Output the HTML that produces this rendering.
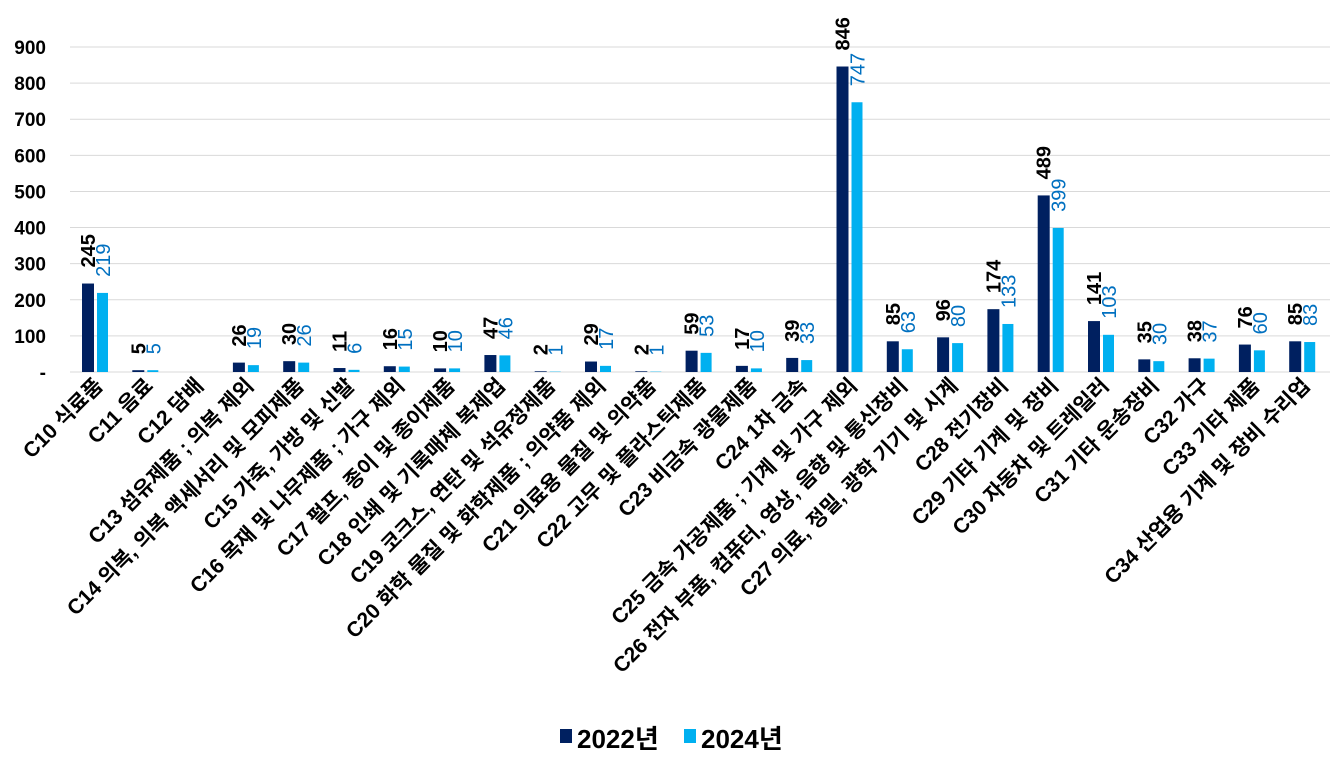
<!DOCTYPE html><html><head><meta charset="utf-8"><style>body{margin:0;background:#fff}svg{display:block;font-family:"Liberation Sans","Noto Sans CJK KR",sans-serif}</style></head><body>
<svg id="s" width="1343" height="761" xmlns="http://www.w3.org/2000/svg"></svg>
<script>
const cats=["C10 식료품","C11 음료","C12 담배","C13 섬유제품 ; 의복 제외","C14 의복, 의복 액세서리 및 모피제품","C15 가죽, 가방 및 신발","C16 목재 및 나무제품 ; 가구 제외","C17 펄프, 종이 및 종이제품","C18 인쇄 및 기록매체 복제업","C19 코크스, 연탄 및 석유정제품","C20 화학 물질 및 화학제품 ; 의약품 제외","C21 의료용 물질 및 의약품","C22 고무 및 플라스틱제품","C23 비금속 광물제품","C24 1차 금속","C25 금속 가공제품 ; 기계 및 가구 제외","C26 전자 부품, 컴퓨터, 영상, 음향 및 통신장비","C27 의료, 정밀, 광학 기기 및 시계","C28 전기장비","C29 기타 기계 및 장비","C30 자동차 및 트레일러","C31 기타 운송장비","C32 가구","C33 기타 제품","C34 산업용 기계 및 장비 수리업"];
const a=[245,5,null,26,30,11,16,10,47,2,29,2,59,17,39,846,85,96,174,489,141,35,38,76,85];
const b=[219,5,null,19,26,6,15,10,46,1,17,1,53,10,33,747,63,80,133,399,103,30,37,60,83];
let h='';const y0=372,k=0.3611;
for(let i=0;i<=9;i++){const y=y0-i*100*k;h+=`<line x1="70" x2="1330" y1="${y}" y2="${y}" stroke="#d9d9d9" stroke-width="1"/>`;h+=`<text x="46" y="${y+7}" text-anchor="end" font-size="19" font-weight="bold">${i?i*100:'-'}</text>`;}
for(let i=0;i<25;i++){const c=95+i*50.3;
if(a[i]!=null){const ha=a[i]*k,hb=b[i]*k;
h+=`<rect x="${c-13}" y="${y0-ha}" width="12" height="${ha}" fill="#002060"/><rect x="${c+2}" y="${y0-hb}" width="11" height="${hb}" fill="#00b0f0"/>`;
h+=`<text transform="translate(${c},${y0-ha-16}) rotate(-90)" font-size="20" font-weight="bold">${a[i]}</text>`;
h+=`<text transform="translate(${c+15},${y0-hb-16}) rotate(-90)" font-size="20" fill="#0070c0">${b[i]}</text>`;}
h+=`<text transform="translate(${c+9},${387}) rotate(-45)" text-anchor="end" font-size="21" font-weight="bold">${cats[i]}</text>`;}
h+=`<rect x="560" y="729" width="12" height="14" fill="#002060"/><text x="577" y="748" font-size="26" font-weight="bold">2022년</text>`;
h+=`<rect x="684" y="729" width="12" height="14" fill="#00b0f0"/><text x="701" y="748" font-size="26" font-weight="bold">2024년</text>`;
document.getElementById('s').innerHTML=h;
</script></body></html>
